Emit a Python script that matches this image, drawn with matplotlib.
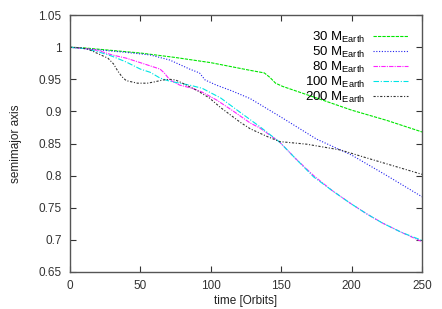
import matplotlib
matplotlib.use('Agg')
import matplotlib.pyplot as plt

plt.rcParams['font.family'] = ['Liberation Sans', 'DejaVu Sans']
plt.rcParams['mathtext.default'] = 'regular'

# 30 M_Earth
t_30 = [0, 10, 25, 50, 75, 100, 128, 138, 142, 146, 151, 175, 200, 225, 250]
a_30 = [1.0, 0.999, 0.996, 0.991, 0.984, 0.976, 0.964, 0.96, 0.953, 0.944, 0.939,
        0.921, 0.902, 0.886, 0.868]

# 50 M_Earth
t_50 = [0, 10, 25, 40, 57, 71, 85, 92, 96, 104, 115, 128, 150, 175, 200, 225, 250]
a_50 = [1.0, 0.998, 0.995, 0.992, 0.988, 0.98, 0.966, 0.96, 0.949, 0.941, 0.932,
        0.92, 0.891, 0.857, 0.832, 0.8, 0.767]

# 80 M_Earth
t_80 = [0, 10, 20, 30, 40, 50, 57, 64, 67, 71, 78, 87, 94, 104, 115, 128, 135,
        149, 160, 173, 186, 199, 211, 222, 235, 250]
a_80 = [1.0, 0.998, 0.995, 0.988, 0.983, 0.976, 0.971, 0.966, 0.96, 0.949, 0.941,
        0.936, 0.93, 0.918, 0.902, 0.882, 0.874, 0.852, 0.827, 0.8, 0.777, 0.757,
        0.74, 0.726, 0.712, 0.697]

# 100 M_Earth
t_100 = [0, 10, 20, 30, 40, 50, 57, 64, 71, 85, 94, 107, 120, 135, 149, 160, 173,
         186, 199, 211, 222, 235, 250]
a_100 = [1.0, 0.998, 0.993, 0.986, 0.977, 0.966, 0.961, 0.952, 0.947, 0.941, 0.936,
         0.921, 0.9, 0.876, 0.852, 0.827, 0.798, 0.777, 0.757, 0.74, 0.726, 0.712,
         0.699]

# 200 M_Earth
t_200 = [0, 8, 13, 20, 27, 31, 34, 37, 40, 48, 55, 60, 66, 71, 75, 80, 90, 99, 107,
         121, 128, 140, 149, 168, 192, 210, 230, 250]
a_200 = [1.0, 0.999, 0.997, 0.99, 0.983, 0.974, 0.963, 0.954, 0.948, 0.944, 0.944,
         0.946, 0.949, 0.95, 0.949, 0.944, 0.933, 0.921, 0.906, 0.883, 0.873, 0.861,
         0.853, 0.849, 0.84, 0.828, 0.815, 0.802]

fig = plt.figure(figsize=(4.42, 3.09), dpi=100)
ax = fig.add_axes([0.158, 0.12, 0.797, 0.831])

lw = 0.8
ax.plot(t_30, a_30, color='#00e600', lw=lw, dashes=(3, 1), label='30 M$_{Earth}$')
ax.plot(t_50, a_50, color='#2222ee', lw=lw, dashes=(1, 1.5), label='50 M$_{Earth}$')
ax.plot(t_80, a_80, color='#ff22ff', lw=lw, dashes=(4, 1, 1, 1), label='80 M$_{Earth}$')
ax.plot(t_100, a_100, color='#00e5e5', lw=lw, dashes=(5, 1.5, 1, 1.5), label='100 M$_{Earth}$')
ax.plot(t_200, a_200, color='#333333', lw=lw, dashes=(2, 1.5, 1, 1.5), label='200 M$_{Earth}$')

ax.set_xlim(0, 250)
ax.set_ylim(0.65, 1.05)
ax.set_xticks([0, 50, 100, 150, 200, 250])
ax.set_yticks([0.65, 0.7, 0.75, 0.8, 0.85, 0.9, 0.95, 1.0, 1.05])
ax.set_yticklabels(['0.65', '0.7', '0.75', '0.8', '0.85', '0.9', '0.95', '1', '1.05'])
ax.tick_params(direction='in', top=True, right=True, length=4, width=0.8,
               labelsize=8.5, colors='#333333', pad=6)
for s in ax.spines.values():
    s.set_color('#555555')
    s.set_linewidth(1.0)

ax.set_xlabel('time [Orbits]', fontsize=8.5, color='#222222', labelpad=2)
ax.set_ylabel('semimajor axis', fontsize=8.5, color='#222222', labelpad=12)

ax.legend(loc='upper right', frameon=False, markerfirst=False, fontsize=9.5,
          handlelength=2.6, handletextpad=0.6, labelspacing=0.0,
          borderaxespad=0.9, borderpad=0.2)

fig.savefig('out.png', dpi=100)
